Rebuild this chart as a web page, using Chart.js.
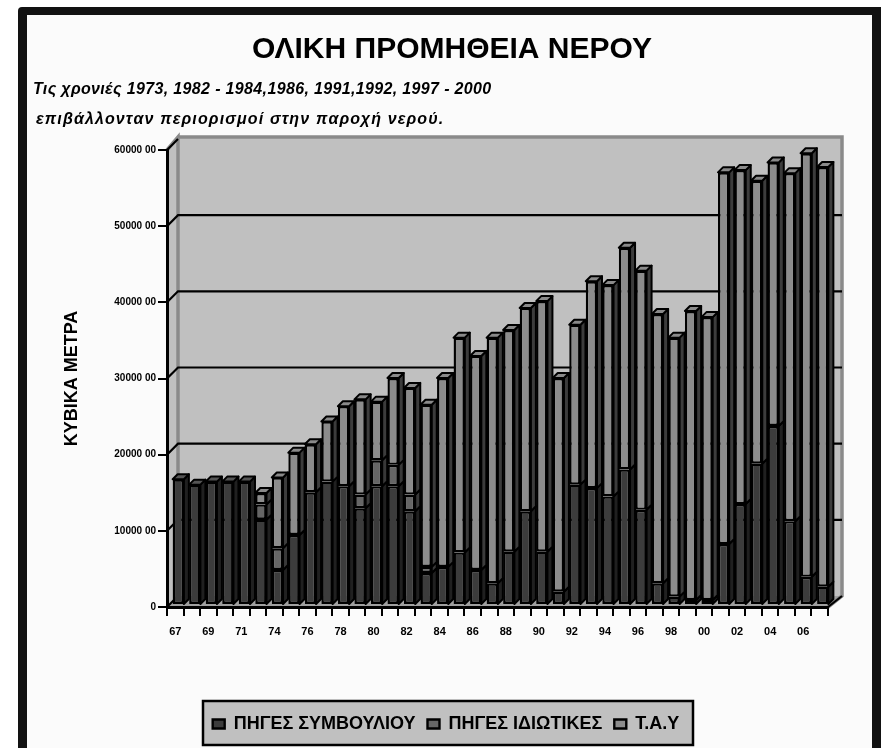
<!DOCTYPE html>
<html><head><meta charset="utf-8">
<style>html,body{margin:0;padding:0;background:#fff}canvas{display:block}</style>
<script src="https://cdn.jsdelivr.net/npm/chart.js@4"></script>
</head><body><canvas id="c" width="881" height="748"></canvas>
<script>
const categories=['67','68','69','70','71','73','74','75','76','77','78','79','80','81','82','83','84','85','86','87','88','89','90','91','92','93','94','95','96','97','98','99','00','01','02','03','04','05','06','07'];
const yTickLabels={0:'0',1000000:'10000 00',2000000:'20000 00',3000000:'30000 00',4000000:'40000 00',5000000:'50000 00',6000000:'60000 00'};
const councilSources=[1650000,1580000,1620000,1620000,1620000,1120000,460000,920000,1480000,1620000,1560000,1270000,1560000,1560000,1230000,420000,500000,690000,460000,285000,700000,1230000,700000,175000,1580000,1535000,1425000,1780000,1250000,285000,110000,65000,65000,800000,1325000,1855000,2350000,1100000,370000,240000];
const privateSources=[0,0,0,0,0,200000,285000,0,0,0,0,180000,340000,280000,220000,80000,0,0,0,0,0,0,0,0,0,0,0,0,0,0,0,0,0,0,0,0,0,0,0,0];
const tay=[0,0,0,0,0,150000,930000,1080000,630000,790000,1050000,1250000,770000,1140000,1400000,2130000,2480000,2820000,2810000,3225000,2910000,2670000,3290000,2805000,2100000,2715000,2775000,2910000,3140000,3535000,3400000,3795000,3715000,4880000,4385000,3715000,3460000,4570000,5560000,5510000];
const seriesNames=['ΠΗΓΕΣ ΣΥΜΒΟΥΛΙΟΥ','ΠΗΓΕΣ ΙΔΙΩΤΙΚΕΣ','Τ.Α.Υ'];
const titleText='ΟΛΙΚΗ ΠΡΟΜΗΘΕΙΑ ΝΕΡΟΥ';
const noteLines=['Τις χρονιές 1973, 1982 - 1984,1986, 1991,1992, 1997 - 2000','επιβάλλονταν περιορισμοί στην παροχή νερού.'];
const yAxisTitle='ΚΥΒΙΚΑ ΜΕΤΡΑ';

const FONT='"Liberation Sans", Arial, sans-serif';
const frontCols=['#3c3c3c','#666666','#8c8c8c'];
const sideCols=['#202020','#383838','#3c3c3c'];
const topCols=['#555555','#777777','#8a8a8a'];

const scene={
  id:'scene',
  afterLayout(chart){
    chart.titleBlock.left+=22;chart.titleBlock.right+=22;
    chart.legend.left+=16;chart.legend.right+=16;
  },
  beforeDraw(chart){
    const c=chart.ctx,y=chart.scales.y,x=chart.scales.x;
    const L=x.left,R=x.right,T=y.top,B=y.bottom,dx=11,dy=11;
    c.save();
    c.fillStyle='#ffffff';c.fillRect(0,0,881,748);
    c.fillStyle='#121212';c.beginPath();c.roundRect(18,7,880,760,4);c.fill();
    c.fillStyle='#fbfbfb';c.fillRect(27,15,845,740);
    // legend box
    c.fillStyle='#c0c0c0';c.strokeStyle='#000';c.lineWidth=2.5;
    c.fillRect(203,701,490,44);c.strokeRect(203,701,490,44);
    // walls
    c.fillStyle='#c0c0c0';
    c.beginPath();c.moveTo(L,T);c.lineTo(L+dx,T-dy-2);c.lineTo(R+dx+3,T-dy-2);c.lineTo(R+dx+3,B-dy);c.lineTo(R,B);c.lineTo(L,B);c.closePath();c.fill();
    c.fillStyle='#a0a0a0';
    c.beginPath();c.moveTo(L,B);c.lineTo(L+dx,B-dy);c.lineTo(R+dx+3,B-dy);c.lineTo(R,B);c.closePath();c.fill();
    c.strokeStyle='#8a8a8a';c.lineWidth=3.5;c.lineJoin='miter';
    c.beginPath();c.moveTo(L,T);c.lineTo(L+dx,T-dy-2);c.lineTo(L+dx,B-dy);c.stroke();
    c.beginPath();c.moveTo(L+dx,T-dy-2);c.lineTo(R+dx+3,T-dy-2);c.lineTo(R+dx+3,B-dy);c.lineTo(R,B);c.stroke();
    // grid lines on the back wall, from the value scale
    c.strokeStyle='#000';c.lineWidth=2.2;
    y.ticks.forEach(t=>{
      const p=y.getPixelForValue(t.value);
      c.beginPath();c.moveTo(L,p);c.lineTo(L+dx,p-dy);
      if(t.value>0&&t.value<6000000)c.lineTo(R+dx+3,p-dy);
      c.stroke();
    });
    c.beginPath();c.moveTo(R,B);c.lineTo(R+dx+3,B-dy);c.stroke();
    c.restore();
  },
  beforeDatasetsDraw(chart){
    const c=chart.ctx;
    c.save();
    c.translate(3,-2);
    const dx=5,dy=5;
    c.strokeStyle='#000';c.lineWidth=2;c.lineJoin='round';
    const metas=[0,1,2].map(i=>chart.getDatasetMeta(i));
    categories.forEach((_,i)=>{
      let topSeg=-1;
      metas.forEach((m,s)=>{
        const b=m.data[i];
        if(chart.data.datasets[s].data[i]>0){
          topSeg=s;
          const r=b.x+b.width/2;
          const poly=[[r,b.y],[r+dx,b.y-dy],[r+dx,b.base-dy],[r,b.base]];
          c.fillStyle=sideCols[s];c.beginPath();poly.forEach((p,k)=>k?c.lineTo(p[0],p[1]):c.moveTo(p[0],p[1]));c.closePath();c.fill();c.stroke();
        }
      });
      if(topSeg>=0){
        const b=metas[topSeg].data[i],l=b.x-b.width/2,r=b.x+b.width/2;
        c.fillStyle=topCols[topSeg];
        c.beginPath();c.moveTo(l,b.y);c.lineTo(l+dx,b.y-dy);c.lineTo(r+dx,b.y-dy);c.lineTo(r,b.y);c.closePath();c.fill();c.stroke();
      }
    });
  },
  afterDatasetsDraw(chart){chart.ctx.restore();},
  afterDraw(chart){
    const c=chart.ctx;
    c.save();
    c.fillStyle='#000';c.textAlign='left';c.textBaseline='alphabetic';
    c.font='italic bold 16px '+FONT;
    c.letterSpacing='0.35px';c.fillText(noteLines[0],33,94);
    c.letterSpacing='1.14px';c.fillText(noteLines[1],36,124);
    c.restore();
  }
};

const mk=(i,data)=>({label:seriesNames[i],data,backgroundColor:frontCols[i],borderColor:'#000',borderWidth:2.4,borderSkipped:false,barPercentage:0.68,categoryPercentage:1,clip:false});

new Chart(document.getElementById('c'),{
  type:'bar',
  data:{labels:categories,datasets:[mk(0,councilSources),mk(1,privateSources),mk(2,tay)]},
  plugins:[scene],
  options:{
    responsive:false,animation:false,devicePixelRatio:1,
    layout:{padding:{left:32,right:53,top:25,bottom:5}},
    plugins:{
      tooltip:{enabled:false},
      title:{display:true,text:titleText,color:'#000',align:'center',font:{family:FONT,size:30,weight:'bold'},padding:{top:7,bottom:82}},
      legend:{display:true,position:'bottom',labels:{color:'#000',font:{family:FONT,size:18,weight:'bold'},boxWidth:12,boxHeight:9,padding:12},onClick:null}
    },
    scales:{
      x:{stacked:true,offset:true,
        afterFit(s){s.height=96;},
        grid:{offset:true,drawOnChartArea:false,color:'#000',lineWidth:2,tickLength:9},
        border:{color:'#000',width:3},
        ticks:{color:'#000',autoSkip:false,maxRotation:0,minRotation:0,padding:9,font:{family:FONT,size:11,weight:'bold'},
          callback(v,i){return i%2===0?categories[i]:'';}}},
      y:{stacked:true,min:0,max:6000000,
        afterFit(s){s.width=135;},
        grid:{drawOnChartArea:false,color:'#000',lineWidth:2,tickLength:9},
        border:{color:'#000',width:3},
        title:{display:true,text:yAxisTitle,color:'#000',font:{family:FONT,size:18,weight:'bold'},padding:{top:29,bottom:0}},
        ticks:{color:'#000',stepSize:1000000,padding:2,font:{family:FONT,size:10,weight:'bold'},callback(v){return yTickLabels[v];}}}
    }
  }
});
</script></body></html>
